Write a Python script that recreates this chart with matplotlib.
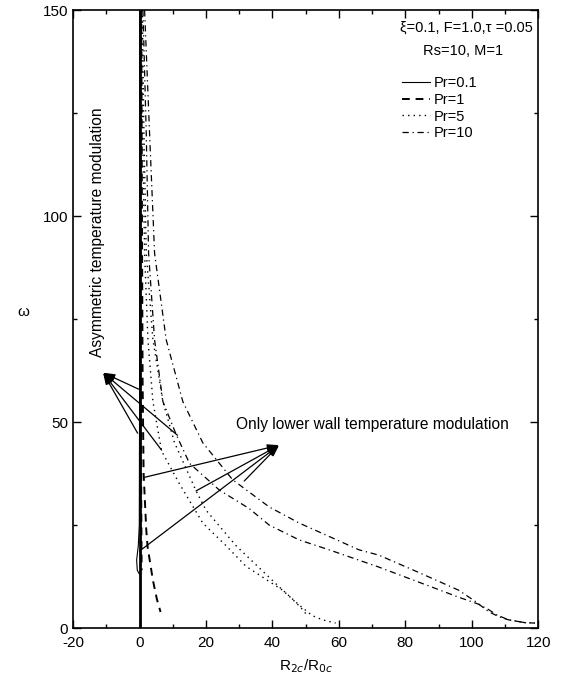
import matplotlib
matplotlib.use("Agg")
import matplotlib.pyplot as plt
from matplotlib.ticker import MultipleLocator

plt.rcParams["font.family"] = ["Liberation Sans", "DejaVu Sans"]
plt.rcParams["font.size"] = 10
plt.rcParams["axes.unicode_minus"] = False

# Pr=0.1 (solid)
w_p01_asym = [0, 150]
r_p01_asym = [0.0, 0.0]
w_p01_low = [150, 60, 25, 20, 16.5, 14, 13]
r_p01_low = [0.0, 0.0, -0.1, -0.4, -0.9, -0.7, 0.0]

# Pr=1 (dashed)
w_p1_asym = [150, 100, 60, 30, 14]
r_p1_asym = [0.3, 0.35, 0.4, 0.5, 0.6]
w_p1_low = [150, 100, 60, 37.6, 23.8, 19.7, 11.6, 7, 3.9]
r_p1_low = [0.5, 0.7, 0.9, 1.2, 2.0, 2.4, 4.0, 5.2, 6.3]

# Pr=5 (dotted)
w_p5_asym = [150, 120, 91, 70, 55, 43, 35, 25.5, 20, 15, 9.2, 7, 5, 3.5]
r_p5_asym = [0.5, 0.9, 1.5, 2.5, 4, 6.6, 12, 19, 26, 32, 43, 46, 48.5, 50]
w_p5_low = [150, 120, 91, 70, 55, 45, 33.3, 28.6, 20, 10, 5.6, 3, 2, 1.2]
r_p5_low = [0.8, 1.3, 2, 4, 7, 10.5, 17, 20, 29, 42, 48, 52, 55, 59]

# Pr=10 (dash-dot)
w_p10_asym = [150, 120, 91, 70, 55, 47, 40, 33.5, 29, 25, 21.4, 19, 14.8,
              7.5, 5.8, 4.5, 3.2, 2, 1.3, 1.2]
r_p10_asym = [1.0, 2.0, 2.7, 4.5, 7, 11, 15, 24, 33, 39, 48, 57, 72,
              96, 102, 105, 107.5, 111, 116, 119]
w_p10_low = [150, 120, 91, 70, 55, 45, 36, 29.4, 25.5, 19, 17.7, 13.5,
             9.2, 6.5, 4, 2.8, 2, 1.3, 1.2]
r_p10_low = [1.5, 3, 4.5, 8, 13, 19, 28, 39, 48, 66, 72, 84,
             96, 101, 105, 108, 111, 116, 119]

# arrow targets (R, omega)
asym_tip = (-11, 62)
asym_pts = [(-0.3, 58), (11.4, 46.8), (6.6, 43.2), (-0.6, 47.3)]
low_tip = (42, 44.4)
low_pts = [(1.5, 36.6), (17, 33.3), (0, 18.7), (31.5, 35.7)]

fig = plt.figure(figsize=(5.63, 6.83), dpi=100)
ax = fig.add_axes([0.130, 0.0805, 0.826, 0.9045])

dash = (0, (4, 3))
dot = (0, (1, 3))
dashdot = (0, (5, 3, 1, 3))

ax.plot(r_p01_asym, w_p01_asym, color="black", lw=2.0, ls="-")
ax.plot(r_p01_low, w_p01_low, color="black", lw=0.8, ls="-", label="Pr=0.1")
ax.plot(r_p1_asym, w_p1_asym, color="black", lw=1.4, ls=dash)
ax.plot(r_p1_low, w_p1_low, color="black", lw=1.4, ls=dash, label="Pr=1")
ax.plot(r_p5_asym, w_p5_asym, color="black", lw=1.0, ls=dot, label="Pr=5")
ax.plot(r_p5_low, w_p5_low, color="black", lw=1.0, ls=dot)
ax.plot(r_p10_asym, w_p10_asym, color="black", lw=0.9, ls=dashdot, label="Pr=10")
ax.plot(r_p10_low, w_p10_low, color="black", lw=0.9, ls=dashdot)

arrow = dict(arrowstyle="-|>,head_length=0.7,head_width=0.22", color="black",
             lw=0.9, shrinkA=0, shrinkB=0)
for p in asym_pts:
    ax.annotate("", xy=asym_tip, xytext=p, arrowprops=arrow)
for p in low_pts:
    ax.annotate("", xy=low_tip, xytext=p, arrowprops=arrow)

ax.text(-12.7, 96, "Asymmetric temperature modulation", rotation=90,
        ha="center", va="center", fontsize=11.2)
ax.text(29, 49.3, "Only lower wall temperature modulation",
        ha="left", va="center", fontsize=11.2)
ax.text(0.988, 0.972, "ξ=0.1, F=1.0,τ =0.05", transform=ax.transAxes,
        ha="right", va="center", fontsize=10.5)
ax.text(0.752, 0.934, "Rs=10, M=1", transform=ax.transAxes,
        ha="left", va="center", fontsize=10.5)

ax.legend(loc="upper left", bbox_to_anchor=(0.707, 0.894), frameon=False,
          borderpad=0, borderaxespad=0, handlelength=1.9, handletextpad=0.25,
          labelspacing=0.2, fontsize=10.5)

ax.set_xlim(-20, 120)
ax.set_ylim(0, 150)
ax.xaxis.set_major_locator(MultipleLocator(20))
ax.xaxis.set_minor_locator(MultipleLocator(10))
ax.yaxis.set_major_locator(MultipleLocator(50))
ax.yaxis.set_minor_locator(MultipleLocator(25))
ax.tick_params(which="both", direction="in", top=True, right=True, labelsize=11)
ax.tick_params(axis="x", pad=6)
ax.tick_params(which="major", length=6, width=1)
ax.tick_params(which="minor", length=3, width=1)
for s in ax.spines.values():
    s.set_linewidth(1.2)

ax.set_xlabel("R$_{2c}$/R$_{0c}$", fontsize=11, labelpad=5)
ax.set_ylabel("ω", rotation=0, fontsize=11, labelpad=14)

fig.savefig("out.png", dpi=100)
